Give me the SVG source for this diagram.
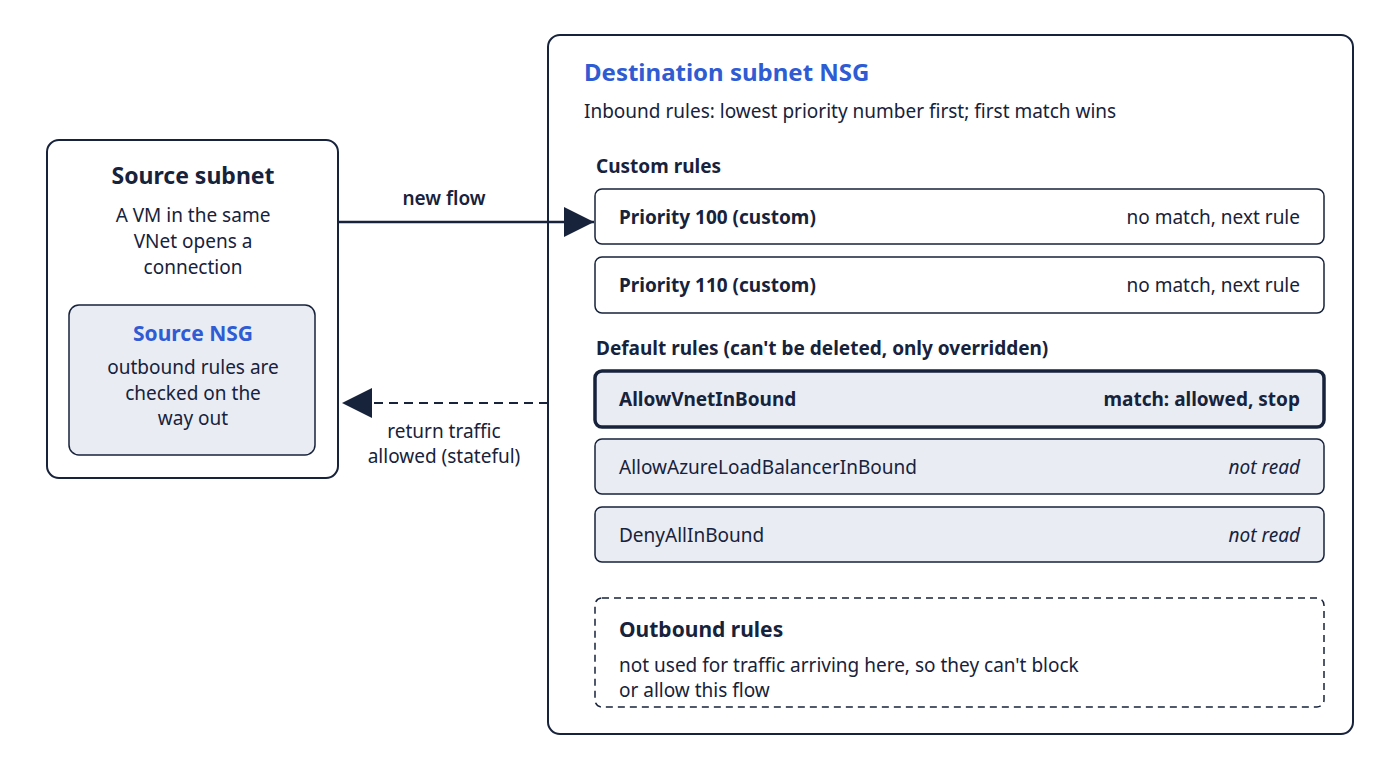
<svg xmlns="http://www.w3.org/2000/svg" width="1400" height="770" viewBox="0 0 1400 770">
<defs>
<style>
text{font-family:"Noto Sans","Open Sans",sans-serif;fill:#17223b}
.b{font-weight:700}
.t{font-size:21px}
.s{font-size:19px}
.blue{fill:#2f5bd3}
.box{fill:#fff;stroke:#17223b;stroke-width:2}
.rule{fill:#fff;stroke:#17223b;stroke-width:1.5}
.grey{fill:#e9ecf3;stroke:#17223b;stroke-width:1.5}
.c{text-anchor:middle}
.e{text-anchor:end}
</style>
<marker id="ah2" viewBox="0 0 10 10" refX="10" refY="5" markerWidth="30" markerHeight="30" markerUnits="userSpaceOnUse" orient="auto"><path d="M0,0L10,5L0,10z" fill="#17223b"/></marker>
</defs>
<rect width="1400" height="770" fill="#fff"/>
<g id="source-subnet">
<rect class="box" x="47" y="140" width="291" height="338" rx="12"/>
<text class="b c" x="193" y="184" font-size="23">Source subnet</text>
<text class="c s" x="193" y="222">A VM in the same</text>
<text class="c s" x="193" y="248">VNet opens a</text>
<text class="c s" x="193" y="274">connection</text>
</g>
<g id="source-nsg">
<rect class="grey" x="69" y="305" width="246" height="150" rx="10"/>
<text class="b c blue" x="193" y="341" font-size="21">Source NSG</text>
<text class="c s" x="193" y="374">outbound rules are</text>
<text class="c s" x="193" y="400">checked on the</text>
<text class="c s" x="193" y="425">way out</text>
</g>
<g id="destination-nsg">
<rect class="box" x="548" y="35" width="805" height="699" rx="12"/>
<text class="b blue" x="584" y="81" font-size="24">Destination subnet NSG</text>
<text class="s" x="584" y="118">Inbound rules: lowest priority number first; first match wins</text>
<text class="b s" x="596" y="173">Custom rules</text>
<text class="b s" x="596" y="355">Default rules (can't be deleted, only overridden)</text>
</g>
<g id="rule-100">
<rect class="rule" x="595" y="189" width="729" height="55" rx="7"/>
<text class="b s" x="619" y="224">Priority 100 (custom)</text>
<text class="s e" x="1300" y="224">no match, next rule</text>
</g>
<g id="rule-110">
<rect class="rule" x="595" y="257" width="729" height="56" rx="7"/>
<text class="b s" x="619" y="292">Priority 110 (custom)</text>
<text class="s e" x="1300" y="292">no match, next rule</text>
</g>
<g id="allow-vnet">
<rect class="grey" x="595" y="371" width="729" height="56" rx="7" style="stroke-width:3.5"/>
<text class="b s" x="619" y="406">AllowVnetInBound</text>
<text class="b s e" x="1300" y="406">match: allowed, stop</text>
</g>
<g id="allow-lb">
<rect class="grey" x="595" y="439" width="729" height="55" rx="7"/>
<text class="s" x="619" y="474">AllowAzureLoadBalancerInBound</text>
<text class="s e" x="1300" y="474" font-style="italic">not read</text>
</g>
<g id="deny-all">
<rect class="grey" x="595" y="507" width="729" height="55" rx="7"/>
<text class="s" x="619" y="542">DenyAllInBound</text>
<text class="s e" x="1300" y="542" font-style="italic">not read</text>
</g>
<g id="outbound-rules">
<rect x="595" y="598" width="729" height="109" rx="7" fill="#fff" stroke="#17223b" stroke-width="1.5" stroke-dasharray="7,5"/>
<text class="b" x="619" y="637" font-size="21">Outbound rules</text>
<text class="s" x="619" y="672">not used for traffic arriving here, so they can't block</text>
<text class="s" x="619" y="697">or allow this flow</text>
</g>
<g id="connectors">
<line x1="338" y1="222" x2="594" y2="222" stroke="#17223b" stroke-width="2.5" marker-end="url(#ah2)"/>
<text class="s c" x="444" y="205" font-weight="600">new flow</text>
<line x1="548" y1="403" x2="342" y2="403" stroke="#17223b" stroke-width="2" stroke-dasharray="9,6" marker-end="url(#ah2)"/>
<text class="s c" x="444" y="438">return traffic</text>
<text class="s c" x="444" y="463">allowed (stateful)</text>
</g>
</svg>
